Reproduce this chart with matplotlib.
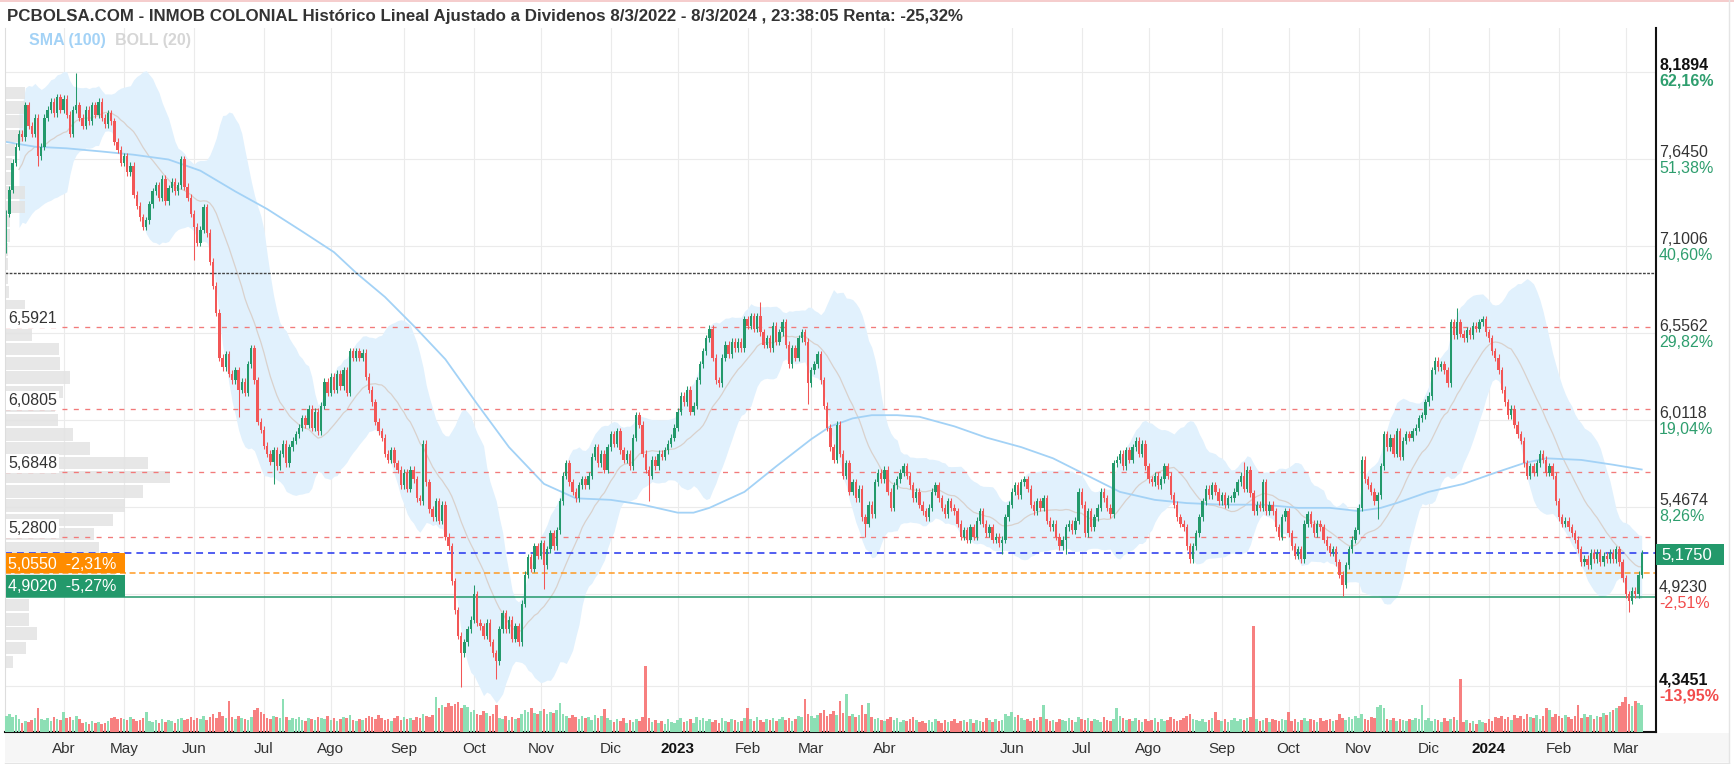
import matplotlib
matplotlib.use("Agg")
import matplotlib.pyplot as plt
import matplotlib.transforms as mtransforms
from matplotlib.patches import Rectangle
import numpy as np
import pandas as pd

# ---------------- data ----------------
TITLE = ("PCBOLSA.COM - INMOB COLONIAL Histórico Lineal Ajustado a Dividenos "
         "8/3/2022 - 8/3/2024 , 23:38:05 Renta: -25,32%")

FIRST_OPEN = 7.08
CLOSE = [
    7.30, 7.45, 7.62, 7.72, 7.80, 7.78, 7.98, 7.85, 7.80, 7.90,
    7.66, 7.72, 7.90, 7.95, 8.00, 7.93, 8.03, 7.95, 8.02, 7.92,
    7.80, 7.95, 7.98, 7.90, 7.85, 7.95, 7.88, 7.98, 7.92, 8.00,
    7.90, 7.86, 7.93, 7.88, 7.75, 7.70, 7.62, 7.66, 7.56, 7.60,
    7.42, 7.35, 7.28, 7.22, 7.26, 7.36, 7.44, 7.48, 7.40, 7.52,
    7.38, 7.46, 7.50, 7.44, 7.48, 7.64, 7.47, 7.40, 7.30, 7.22,
    7.12, 7.20, 7.34, 7.18, 7.00, 6.85, 6.68, 6.40, 6.34, 6.42,
    6.30, 6.26, 6.32, 6.20, 6.25, 6.18, 6.36, 6.46, 6.26, 6.00,
    5.95, 5.85, 5.80, 5.75, 5.82, 5.72, 5.80, 5.86, 5.74, 5.84,
    5.88, 5.92, 5.96, 6.02, 5.98, 6.08, 5.96, 6.06, 5.94, 6.10,
    6.25, 6.18, 6.28, 6.20, 6.30, 6.22, 6.32, 6.18, 6.44, 6.40,
    6.44, 6.40, 6.43, 6.28, 6.20, 6.12, 6.00, 5.94, 5.90, 5.80,
    5.76, 5.82, 5.74, 5.70, 5.60, 5.68, 5.58, 5.70, 5.64, 5.52,
    5.50, 5.86, 5.62, 5.45, 5.40, 5.50, 5.38, 5.48, 5.28, 5.22,
    5.00, 4.82, 4.66, 4.55, 4.62, 4.70, 4.76, 4.92, 4.74, 4.72,
    4.66, 4.74, 4.62, 4.55, 4.50, 4.70, 4.80, 4.70, 4.76, 4.64,
    4.72, 4.62, 4.86, 5.04, 5.15, 5.08, 5.22, 5.16, 5.24, 5.10,
    5.20, 5.30, 5.22, 5.32, 5.50, 5.66, 5.74, 5.62, 5.56, 5.52,
    5.60, 5.64, 5.60, 5.66, 5.78, 5.84, 5.74, 5.80, 5.70, 5.84,
    5.92, 5.86, 5.94, 5.82, 5.76, 5.80, 5.72, 5.90, 6.04, 5.98,
    5.80, 5.70, 5.66, 5.76, 5.72, 5.80, 5.78, 5.82, 5.86, 5.90,
    5.96, 6.06, 6.16, 6.12, 6.20, 6.06, 6.10, 6.26, 6.36, 6.44,
    6.52, 6.58, 6.40, 6.26, 6.24, 6.40, 6.48, 6.42, 6.50, 6.46,
    6.50, 6.46, 6.64, 6.60, 6.66, 6.58, 6.66, 6.56, 6.48, 6.52,
    6.46, 6.60, 6.50, 6.56, 6.62, 6.48, 6.36, 6.46, 6.40, 6.52,
    6.56, 6.50, 6.24, 6.32, 6.36, 6.42, 6.26, 6.10, 5.96, 5.84,
    5.76, 5.98, 5.80, 5.66, 5.74, 5.56, 5.62, 5.52, 5.58, 5.40,
    5.36, 5.48, 5.42, 5.62, 5.68, 5.64, 5.70, 5.56, 5.46, 5.60,
    5.64, 5.68, 5.72, 5.66, 5.60, 5.52, 5.56, 5.48, 5.44, 5.40,
    5.46, 5.56, 5.60, 5.52, 5.46, 5.42, 5.50, 5.46, 5.44, 5.36,
    5.28, 5.32, 5.26, 5.34, 5.28, 5.38, 5.44, 5.36, 5.30, 5.34,
    5.26, 5.28, 5.24, 5.26, 5.40, 5.48, 5.56, 5.60, 5.54, 5.62,
    5.64, 5.58, 5.48, 5.44, 5.50, 5.46, 5.52, 5.38, 5.34, 5.36,
    5.28, 5.22, 5.26, 5.34, 5.36, 5.32, 5.38, 5.56, 5.48, 5.30,
    5.44, 5.34, 5.40, 5.46, 5.56, 5.52, 5.46, 5.42, 5.74, 5.76,
    5.80, 5.72, 5.82, 5.76, 5.84, 5.88, 5.80, 5.86, 5.72, 5.64,
    5.62, 5.66, 5.60, 5.64, 5.72, 5.66, 5.54, 5.48, 5.40, 5.36,
    5.34, 5.22, 5.14, 5.22, 5.30, 5.40, 5.50, 5.58, 5.54, 5.60,
    5.56, 5.50, 5.54, 5.48, 5.52, 5.52, 5.56, 5.62, 5.66, 5.58,
    5.70, 5.55, 5.44, 5.48, 5.46, 5.62, 5.44, 5.48, 5.44, 5.34,
    5.28, 5.40, 5.44, 5.30, 5.22, 5.16, 5.20, 5.14, 5.36, 5.42,
    5.36, 5.30, 5.36, 5.34, 5.26, 5.22, 5.18, 5.20, 5.12, 5.04,
    4.98, 5.10, 5.20, 5.26, 5.32, 5.46, 5.76, 5.64, 5.60, 5.56,
    5.50, 5.54, 5.72, 5.92, 5.84, 5.90, 5.80, 5.94, 5.78, 5.88,
    5.92, 5.90, 5.94, 5.96, 6.02, 6.04, 6.12, 6.16, 6.32, 6.38,
    6.34, 6.36, 6.32, 6.24, 6.62, 6.54, 6.62, 6.55, 6.52, 6.57,
    6.54, 6.60, 6.58, 6.62, 6.64, 6.56, 6.52, 6.44, 6.40, 6.32,
    6.20, 6.12, 6.04, 6.08, 5.98, 5.92, 5.88, 5.74, 5.66, 5.72,
    5.68, 5.74, 5.80, 5.76, 5.68, 5.72, 5.66, 5.50, 5.40, 5.36,
    5.38, 5.34, 5.30, 5.26, 5.20, 5.12, 5.14, 5.10, 5.18, 5.14,
    5.18, 5.12, 5.16, 5.14, 5.18, 5.14, 5.20, 5.12, 5.02, 4.92,
    4.88, 4.94, 4.92, 5.04, 5.175,
]

VOLUME = [
    16, 18, 15, 17, 13, 9, 11, 10, 12, 14,
    24, 13, 12, 14, 11, 15, 13, 12, 20, 14,
    15, 12, 16, 13, 9, 10, 8, 11, 9, 10,
    8, 9, 11, 14, 15, 13, 14, 13, 12, 15,
    13, 11, 12, 14, 20, 11, 10, 12, 9, 13,
    10, 12, 11, 9, 13, 14, 12, 13, 15, 12,
    14, 13, 16, 12, 15, 18, 14, 20, 16, 14,
    31, 15, 13, 16, 14, 13, 12, 15, 22, 24,
    20, 18, 14, 13, 16, 15, 14, 33, 15, 12,
    14, 13, 15, 12, 11, 14, 13, 12, 15, 14,
    13, 16, 12, 14, 11, 13, 15, 14, 17, 12,
    11, 13, 12, 14, 16, 15, 13, 17, 14, 12,
    13, 11, 14, 16, 12, 15, 13, 14, 12, 15,
    14, 18, 16, 15, 17, 35, 24, 27, 25, 29,
    26, 28, 30, 24, 27, 25, 20, 22, 18, 17,
    21, 19, 16, 18, 27, 14, 13, 16, 12, 15,
    13, 14, 18, 22, 20, 24, 19, 18, 21, 23,
    18, 20, 19, 22, 29, 18, 16, 14, 17, 15,
    13, 16, 14, 15, 12, 17, 14, 16, 23, 14,
    12, 10, 13, 11, 14, 9, 12, 10, 13, 11,
    15, 66, 14, 10, 12, 9, 11, 8, 13, 10,
    9, 12, 14, 10, 11, 13, 9, 15, 12, 14,
    11, 13, 10, 12, 9, 14, 11, 10, 13, 12,
    10, 11, 14, 24, 13, 11, 15, 12, 10, 13,
    12, 14, 11, 13, 15, 12, 14, 11, 13, 16,
    15, 33, 18, 16, 14, 17, 19, 22, 16, 18,
    21, 17, 31, 19, 38, 16, 18, 15, 17, 27,
    18, 29, 15, 13, 14, 12, 11, 13, 15, 12,
    14, 10, 12, 11, 13, 15, 12, 10, 11, 9,
    12, 10, 13, 11, 9, 12, 10, 11, 13, 9,
    11, 12, 10, 13, 9, 12, 11, 10, 14, 12,
    10, 13, 11, 12, 18, 16, 20, 15, 17, 14,
    12, 13, 11, 14, 12, 15, 27, 13, 11, 12,
    10, 13, 12, 11, 14, 12, 10, 15, 13, 12,
    14, 11, 13, 12, 10, 15, 12, 11, 13, 24,
    16, 14, 12, 13, 11, 14, 12, 10, 13, 11,
    12, 14, 10, 13, 11, 12, 15, 13, 11, 12,
    14, 16, 18, 13, 12, 11, 13, 10, 12, 14,
    20, 12, 11, 13, 10, 12, 14, 11, 13, 12,
    14, 15, 106, 13, 11, 12, 14, 10, 13, 12,
    11, 13, 12, 20, 11, 13, 10, 12, 14, 11,
    13, 12, 10, 14, 11, 12, 13, 11, 12, 18,
    14, 12, 15, 13, 16, 14, 18, 13, 12, 15,
    14, 25, 27, 24, 13, 12, 14, 11, 13, 12,
    11, 13, 12, 14, 13, 27, 12, 14, 11, 13,
    12, 10, 14, 11, 13, 15, 12, 53, 10, 12,
    9, 11, 8, 12, 10, 9, 13, 11, 15, 14,
    16, 13, 15, 12, 17, 14, 16, 13, 18, 15,
    14, 17, 13, 16, 24, 22, 15, 18, 16, 14,
    17, 15, 13, 16, 27, 14, 18, 15, 17, 13,
    16, 15, 19, 17, 20, 22, 24, 26, 30, 35,
    28, 26, 31, 29, 27,
]

# notable wick extremes (trading-day index -> price)
HIGH_PTS = {22: 8.18, 55: 7.66, 147: 4.98, 237: 6.75, 389: 5.75, 456: 6.71}
LOW_PTS = {10: 7.60, 59: 7.01, 73: 6.03, 84: 5.61, 143: 4.34, 154: 4.39,
           169: 4.95, 202: 5.50, 252: 6.11, 270: 5.28, 313: 5.17, 333: 5.17,
           372: 5.13, 420: 4.91, 431: 5.39, 510: 4.81}

# SMA(100) read at sample points (trading-day index, value)
SMA_IDX = [0, 9, 19, 30, 40, 51, 61, 72, 82, 93, 103, 110, 119, 129, 138, 148,
           158, 169, 179, 190, 200, 211, 216, 221, 232, 242, 253, 259, 266, 272,
           280, 287, 298, 308, 319, 329, 340, 350, 361, 371, 382, 395, 406, 416,
           425, 432, 437, 447, 458, 468, 477, 484, 495, 505, 514]
SMA_VAL = [7.75, 7.72, 7.71, 7.69, 7.67, 7.64, 7.57, 7.44, 7.33, 7.19, 7.06,
           6.93, 6.78, 6.58, 6.39, 6.11, 5.84, 5.61, 5.52, 5.51, 5.48, 5.43,
           5.43, 5.46, 5.56, 5.72, 5.89, 5.97, 6.02, 6.04, 6.04, 6.03, 5.97,
           5.90, 5.84, 5.77, 5.66, 5.56, 5.51, 5.49, 5.48, 5.48, 5.46, 5.46,
           5.44, 5.46, 5.49, 5.56, 5.61, 5.68, 5.74, 5.77, 5.76, 5.73, 5.70]

# volume-at-price profile (left grey bars): bins from PROFILE_START, lengths in px
PROFILE_START = 4.451
PROFILE_STEP = 0.089
PROFILE_LEN = [8, 21, 32, 24, 24, 100, 110, 100, 94, 89, 108, 120, 138, 165,
               143, 85, 68, 53, 50, 58, 65, 55, 54, 27, 4, 20, 4, 3, 3, 3, 5,
               5, 20, 20, 7, 7, 10, 18, 18, 20, 20, 0]

RIGHT_PRICES = [8.1894, 7.6450, 7.1006, 6.5562, 6.0118, 5.4674, 4.9230, 4.3451]
RIGHT_PCT = ["62,16%", "51,38%", "40,60%", "29,82%", "19,04%", "8,26%",
             "-2,51%", "-13,95%"]
RIGHT_BOLD = [True, False, False, False, False, False, False, True]

SUPPORTS = [6.5921, 6.0805, 5.6848, 5.2800]
BLACK_LEVEL = 6.928
LAST_PRICE = 5.1750
ORANGE_LEVEL, ORANGE_TXT = 5.0550, "5,0550  -2,31%"
GREEN_LEVEL, GREEN_TXT = 4.9020, "4,9020  -5,27%"

TICK_MONTHS = ['2022-04', '2022-05', '2022-06', '2022-07', '2022-08', '2022-09',
               '2022-10', '2022-11', '2022-12', '2023-01', '2023-02', '2023-03',
               '2023-04', '2023-06', '2023-07', '2023-08', '2023-09', '2023-10',
               '2023-11', '2023-12', '2024-01', '2024-02', '2024-03']
TICK_LABELS = ['Abr', 'May', 'Jun', 'Jul', 'Ago', 'Sep', 'Oct', 'Nov', 'Dic',
               '2023', 'Feb', 'Mar', 'Abr', 'Jun', 'Jul', 'Ago', 'Sep', 'Oct',
               'Nov', 'Dic', '2024', 'Feb', 'Mar']
HOLIDAYS = ['2022-04-15', '2022-04-18', '2022-12-26', '2023-04-07', '2023-04-10',
            '2023-05-01', '2023-12-25', '2023-12-26', '2024-01-01']

# ---------------- style ----------------
plt.rcParams['font.family'] = ['Liberation Sans', 'DejaVu Sans']
plt.rcParams['lines.scale_dashes'] = False

GREEN = '#23996b'
RED = '#f25656'
VGREEN = '#8ddfb5'
VRED = '#f78080'
TXT = '#333333'
PCT_G = '#2e9e6e'
PCT_R = '#f24c4c'

W, H = 1734, 764
AX_L, AX_R, AX_T, AX_B = 5, 1656, 28, 732
YMAX, YMIN = 8.4629, 4.0574
XMIN, XMAX = -0.4, 518.5

fig = plt.figure(figsize=(W / 100, H / 100), dpi=100)
fig.patch.set_facecolor('white')


def fx(px):
    return px / W


def fy(py):
    return 1 - py / H


def price_to_py(p):
    return AX_T + (YMAX - p) / (YMAX - YMIN) * (AX_B - AX_T)


# background decorations
fig.add_artist(Rectangle((fx(AX_L), fy(762)), fx(1729 - AX_L), (762 - 733) / H,
                         transform=fig.transFigure, facecolor='#f6f6f6',
                         edgecolor='none', zorder=0))
fig.add_artist(plt.Line2D([0, 1], [fy(1), fy(1)], transform=fig.transFigure,
                          color='#f4c4c4', lw=1.2))
fig.add_artist(plt.Line2D([fx(1729), fx(1729)], [fy(0), fy(763)],
                          transform=fig.transFigure, color='#e4e4e4', lw=1))
fig.add_artist(plt.Line2D([fx(AX_L), fx(1729)], [fy(762.5), fy(762.5)],
                          transform=fig.transFigure, color='#e4e4e4', lw=1))

ax = fig.add_axes([fx(AX_L), fy(AX_B), (AX_R - AX_L) / W, (AX_B - AX_T) / H])
ax.set_xlim(XMIN, XMAX)
ax.set_ylim(YMIN, YMAX)
ax.set_facecolor('none')

# calendar
dates = pd.bdate_range('2022-03-08', '2024-03-08')
dates = dates[~dates.isin(pd.to_datetime(HOLIDAYS))]
closes = np.array(CLOSE, dtype=float)
vols = np.array(VOLUME, dtype=float)
n = min(len(dates), len(closes), len(vols))
closes, vols, dates = closes[:n], vols[:n], dates[:n]
x = np.arange(n)

per = np.array(dates.to_period('M').astype(str))
tick_idx = [int(np.argmax(per == m)) for m in TICK_MONTHS]

# grid
for p in RIGHT_PRICES:
    ax.axhline(p, color='#ebebeb', lw=0.8, zorder=0.2)
for t in tick_idx:
    ax.axvline(t, color='#ebebeb', lw=0.8, zorder=0.2)

# Bollinger bands (20, 2)
s = pd.Series(closes)
mid = s.rolling(20, min_periods=5).mean()
sd = s.rolling(20, min_periods=5).std(ddof=0)
up_b = mid + 2 * sd
lo_b = mid - 2 * sd
ax.fill_between(x, lo_b, up_b, color='#e1f1fd', lw=0, zorder=0.5)
ax.plot(x, mid, color='#d9d1cc', lw=0.9, zorder=1.2)

# volume profile
bin_lo = PROFILE_START + PROFILE_STEP * np.arange(len(PROFILE_LEN))
px_per_idx = (AX_R - AX_L) / (XMAX - XMIN)
ax.barh(bin_lo + PROFILE_STEP / 2, np.array(PROFILE_LEN) / px_per_idx,
        left=XMIN, height=PROFILE_STEP * 0.88, color='#e3e3e3', alpha=0.85,
        lw=0, zorder=1.0)

# SMA 100
ax.plot(SMA_IDX, SMA_VAL, color='#a3d2f6', lw=1.3, zorder=1.3)

# reference lines
for lv in SUPPORTS:
    ax.axhline(lv, color='#f27a7a', lw=0.95, ls=(0, (3.6, 4.6)), zorder=1.5)
ax.axhline(BLACK_LEVEL, color='#444444', lw=1.0, ls=(0, (2.0, 1.0)), zorder=1.5)
ax.axhline(LAST_PRICE, color='#2233ee', lw=1.1, ls=(0, (5.0, 3.6)), zorder=1.5)
ax.axhline(ORANGE_LEVEL, color='#ff9a22', lw=1.1, ls=(0, (4.3, 2.6)), zorder=1.5)
ax.axhline(GREEN_LEVEL, color=GREEN, lw=1.1, zorder=1.5)

# candles
opens = np.r_[FIRST_OPEN, closes[:-1]]
is_up = closes >= opens
colors = np.where(is_up, GREEN, RED)
body_lo = np.minimum(opens, closes)
body_hi = np.maximum(opens, closes)
WICK = 0.022
highs = body_hi + WICK
lows = body_lo - WICK
for i, v in HIGH_PTS.items():
    if i < n:
        highs[i] = max(highs[i], v)
for i, v in LOW_PTS.items():
    if i < n:
        lows[i] = min(lows[i], v)
ax.vlines(x, lows, highs, colors=colors, lw=0.75, zorder=2)
ax.bar(x, np.maximum(body_hi - body_lo, 0.008), bottom=body_lo, width=0.74,
       color=colors, lw=0, zorder=2.1)

# spines / ticks
ax.spines['top'].set_visible(False)
ax.spines['left'].set_color('#dddddd')
ax.spines['left'].set_linewidth(0.8)
ax.spines['bottom'].set_color('#111111')
ax.spines['bottom'].set_linewidth(1.5)
ax.spines['right'].set_color('#111111')
ax.spines['right'].set_linewidth(1.5)
ax.set_yticks([])
ax.set_xticks(tick_idx)
ax.set_xticklabels(TICK_LABELS)
ax.tick_params(axis='x', length=0, pad=7, labelsize=11, labelcolor=TXT)
for lab in ax.get_xticklabels():
    if lab.get_text() in ('2023', '2024'):
        lab.set_fontweight('bold')
        lab.set_color('#111111')

# volume on twin axis (units = px height)
axv = ax.twinx()
axv.set_ylim(0, AX_B - AX_T)
axv.set_yticks([])
for sp in axv.spines.values():
    sp.set_visible(False)
axv.bar(x, vols[:n], width=0.82, color=np.where(is_up, VGREEN, VRED), lw=0,
        zorder=1)
axv.set_xlim(XMIN, XMAX)

# right-hand labels
btr = mtransforms.blended_transform_factory(fig.transFigure, ax.transData)
for p, pct, b in zip(RIGHT_PRICES, RIGHT_PCT, RIGHT_BOLD):
    wt = 'bold' if b else 'normal'
    ax.annotate(f"{p:.4f}".replace('.', ','), xy=(fx(1659), p), xycoords=btr,
                xytext=(0, 1.4), textcoords='offset points', va='baseline',
                ha='left', fontsize=11.5, color='#111111' if b else TXT,
                fontweight=wt, annotation_clip=False)
    ax.annotate(pct, xy=(fx(1659), p), xycoords=btr, xytext=(0, -10.2),
                textcoords='offset points', va='baseline', ha='left',
                fontsize=11.5, color=PCT_R if pct.startswith('-') else PCT_G,
                fontweight=wt, annotation_clip=False)

# left support labels
for lv in SUPPORTS:
    ax.annotate(f"{lv:.4f}".replace('.', ','), xy=(fx(8), lv), xycoords=btr,
                xytext=(0, 2.6), textcoords='offset points', va='baseline',
                ha='left', fontsize=11.5, color=TXT, annotation_clip=False,
                bbox=dict(boxstyle='square,pad=0.12', fc='white', ec='none'),
                zorder=4)


def box(x0, x1, y0, y1, color):
    fig.add_artist(Rectangle((fx(x0), fy(y1)), (x1 - x0) / W, (y1 - y0) / H,
                             transform=fig.transFigure, facecolor=color,
                             edgecolor='none', zorder=5))


yo = price_to_py(ORANGE_LEVEL)
box(AX_L + 0.5, 125, yo - 19.5, yo, '#ff8c00')
fig.text(fx(8), fy(yo - 3.5), ORANGE_TXT, color='white', fontsize=11.5,
         va='baseline', ha='left', zorder=6)
yg = price_to_py(GREEN_LEVEL)
box(AX_L + 0.5, 125, yg - 22, yg, GREEN)
fig.text(fx(8), fy(yg - 6), GREEN_TXT, color='white', fontsize=11.5,
         va='baseline', ha='left', zorder=6)
yl = price_to_py(LAST_PRICE)
box(AX_R, 1724, yl - 9.5, yl + 11.5, GREEN)
fig.text(fx(1661), fy(yl + 6.5), f"{LAST_PRICE:.4f}".replace('.', ','),
         color='white', fontsize=12, va='baseline', ha='left', zorder=6)

# legend texts
fig.text(fx(29), fy(40), "SMA (100)", color='#a3d2f6', fontsize=11.5,
         fontweight='bold', va='center', ha='left')
fig.text(fx(115), fy(40), "BOLL (20)", color='#d6d6d6', fontsize=11.5,
         fontweight='bold', va='center', ha='left')

# title (fitted to its width in the reference)
tt = fig.text(fx(7), fy(16), TITLE, fontsize=12, fontweight='bold', color=TXT,
              va='center', ha='left')
fig.canvas.draw()
bb = tt.get_window_extent()
tt.set_fontsize(12 * 953 / bb.width)

fig.savefig('out.png', dpi=100, facecolor='white')
